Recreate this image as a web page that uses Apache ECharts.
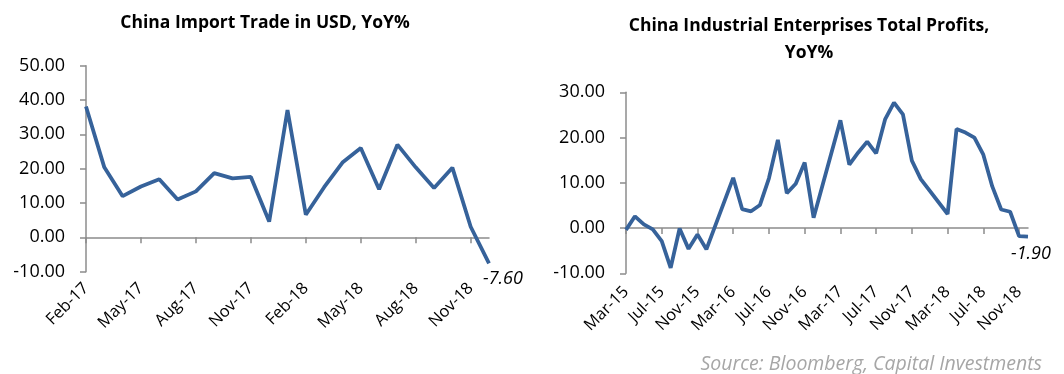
<!DOCTYPE html>
<html><head><meta charset="utf-8">
<script src="https://cdn.jsdelivr.net/npm/echarts@6/dist/echarts.min.js"></script>
<style>html,body{margin:0;padding:0;background:#fff}#c{width:1064px;height:374px}</style>
</head><body><div id="c"></div>
<script>
const importMonths = ['Feb-17','Mar-17','Apr-17','May-17','Jun-17','Jul-17','Aug-17','Sep-17','Oct-17','Nov-17','Dec-17',
  'Jan-18','Feb-18','Mar-18','Apr-18','May-18','Jun-18','Jul-18','Aug-18','Sep-18','Oct-18','Nov-18','Dec-18'];
const importYoY = [38.1, 20.4, 12.0, 14.8, 16.9, 11.0, 13.4, 18.7, 17.2, 17.6, 4.6,
  37.1, 6.6, 14.6, 21.8, 26.0, 14.0, 27.0, 20.4, 14.4, 20.3, 3.1, -7.6];
const profitMonths = ['Mar-15','Apr-15','May-15','Jun-15','Jul-15','Aug-15','Sep-15','Oct-15','Nov-15','Dec-15',
  'Jan-16','Feb-16','Mar-16','Apr-16','May-16','Jun-16','Jul-16','Aug-16','Sep-16','Oct-16','Nov-16','Dec-16',
  'Jan-17','Feb-17','Mar-17','Apr-17','May-17','Jun-17','Jul-17','Aug-17','Sep-17','Oct-17','Nov-17','Dec-17',
  'Jan-18','Feb-18','Mar-18','Apr-18','May-18','Jun-18','Jul-18','Aug-18','Sep-18','Oct-18','Nov-18','Dec-18'];
const profitYoY = [-0.4, 2.6, 0.8, -0.3, -2.9, -8.8, -0.1, -4.6, -1.4, -4.7,
  null, null, 11.1, 4.2, 3.7, 5.1, 11.0, 19.5, 7.7, 9.8, 14.5, 2.3,
  null, null, 23.8, 14.0, 16.7, 19.1, 16.5, 24.0, 27.7, 25.1, 14.9, 10.8,
  null, null, 3.1, 21.9, 21.1, 20.0, 16.2, 9.2, 4.1, 3.6, -1.8, -1.9];

const FONT = 'Open Sans';
const LINE = '#36629a';
const AX = '#8c8c8c';

function withEndLabel(arr, offset) {
  return arr.map((v, i) => i === arr.length - 1 ? {
    value: v,
    label: { show: true, position: 'bottom', distance: 4, offset: offset, formatter: p => Number(p.value).toFixed(2),
      fontFamily: FONT, fontStyle: 'italic', fontSize: 18, color: '#000' }
  } : v);
}

function xAxes(gridIndex, cats, interval, margin) {
  return [
    { type: 'category', gridIndex, data: cats, boundaryGap: false, position: 'bottom',
      axisLine: { show: false, onZero: false }, axisTick: { show: false },
      axisLabel: { interval: interval, rotate: 45, margin: margin, fontFamily: FONT, fontSize: 16.5, color: '#000' } },
    { type: 'category', gridIndex, data: cats, boundaryGap: false, position: 'bottom',
      axisLine: { show: true, onZero: true, lineStyle: { color: AX, width: 1.5 } },
      axisTick: { show: true, interval: interval, length: 6, lineStyle: { color: AX, width: 1.5 } },
      axisLabel: { show: false } }
  ];
}

function yAxis(gridIndex, min, max) {
  return { type: 'value', gridIndex, min, max, interval: 10,
    axisLine: { show: true, lineStyle: { color: AX, width: 1.5 } },
    axisTick: { show: true, length: 6, lineStyle: { color: AX, width: 1.5 } },
    splitLine: { show: false },
    axisLabel: { formatter: v => v.toFixed(2), margin: 21, fontFamily: FONT, fontSize: 18, color: '#000' } };
}

const chart = echarts.init(document.getElementById('c'), null, { renderer: 'canvas' });
chart.setOption({
  animation: false,
  backgroundColor: '#fff',
  title: [
    { text: 'China Import Trade in USD, YoY%', left: 260, top: 9, textAlign: 'center',
      textStyle: { fontFamily: FONT, fontWeight: 'bold', fontSize: 17.5, color: '#000' } },
    { text: 'China Industrial Enterprises Total Profits,\nYoY%', left: 804, top: 8, textAlign: 'center',
      textStyle: { fontFamily: FONT, fontWeight: 'bold', fontSize: 17.5, lineHeight: 27, color: '#000' } }
  ],
  grid: [
    { left: 86, top: 65.7, width: 403, height: 206, containLabel: false, outerBoundsMode: 'none' },
    { left: 626, top: 92.3, width: 402, height: 181, containLabel: false, outerBoundsMode: 'none' }
  ],
  xAxis: [...xAxes(0, importMonths, 2, 14), ...xAxes(1, profitMonths, 3, 16)],
  yAxis: [yAxis(0, -10, 50), yAxis(1, -10, 30)],
  series: [
    { type: 'line', xAxisIndex: 0, yAxisIndex: 0, data: withEndLabel(importYoY, [14, 2]),
      symbol: 'circle', symbolSize: 0.01, showSymbol: true,
      lineStyle: { color: LINE, width: 3.8 }, itemStyle: { color: LINE } },
    { type: 'line', xAxisIndex: 2, yAxisIndex: 1, data: withEndLabel(profitYoY, [3, 4]), connectNulls: true,
      symbol: 'circle', symbolSize: 0.01, showSymbol: true,
      lineStyle: { color: LINE, width: 3.8 }, itemStyle: { color: LINE } }
  ],
  graphic: [
    { type: 'text', right: 22, top: 354,
      style: { text: 'Source: Bloomberg, Capital Investments', fontFamily: FONT, fontStyle: 'italic',
        fontSize: 19.5, fill: '#a6a6a6' } }
  ]
});
</script></body></html>
